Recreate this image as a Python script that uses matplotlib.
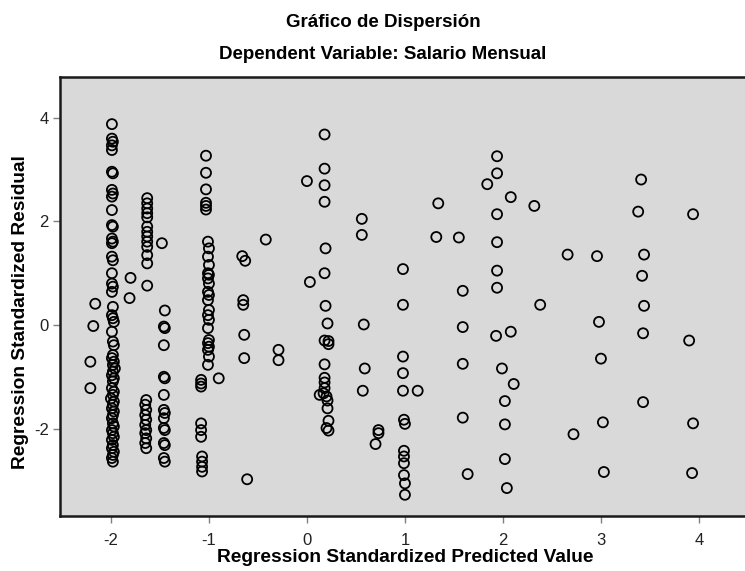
import numpy as np
import matplotlib
matplotlib.use('Agg')
import matplotlib.pyplot as plt

plt.rcParams['font.family'] = ['Liberation Sans', 'DejaVu Sans']
plt.rcParams['axes.unicode_minus'] = False

# standardized predicted value (x) and standardized residual (y)
col_m2_y = [3.88, 3.60, 3.54, 3.47, 3.38, 2.96, 2.93, 2.61, 2.54, 2.48, 2.22, 1.93, 1.90,
            1.67, 1.61, 1.58, 1.32, 1.25, 1.00, 0.80, 0.74, 0.64, 0.35, 0.19, 0.13, 0.06,
            -0.13, -0.32, -0.39, -0.58, -0.64, -0.71, -0.77, -0.84, -0.90, -0.97, -1.03,
            -1.09, -1.22, -1.29, -1.35, -1.42, -1.48, -1.54, -1.61, -1.67, -1.74, -1.80,
            -1.90, -1.96, -2.03, -2.09, -2.16, -2.22, -2.32, -2.38, -2.45, -2.51, -2.57, -2.64]
col_m2_x = [-1.99, -1.99, -1.98, -1.99, -1.99, -1.99, -1.98, -1.99, -1.98, -1.99, -1.99, -1.99, -1.98,
            -1.99, -1.98, -1.99, -1.99, -1.98, -1.99, -1.99, -1.98, -1.99, -1.98, -1.99, -1.98, -1.97,
            -1.99, -1.98, -1.97, -1.98, -1.99, -1.97, -1.98, -1.96, -1.98, -1.99, -1.97,
            -1.98, -1.99, -1.97, -1.98, -2.00, -1.97, -1.98, -1.99, -1.97, -1.98, -1.99,
            -1.98, -1.97, -1.99, -1.98, -1.97, -1.99, -1.98, -1.99, -1.97, -1.98, -1.99, -1.98]

col_m16_y = [2.45, 2.35, 2.25, 2.16, 2.08, 1.90, 1.80, 1.71, 1.61, 1.51, 1.35, 1.19, 0.76,
             -1.45, -1.54, -1.64, -1.74, -1.83, -1.93, -2.03, -2.09, -2.19, -2.28, -2.38]
col_m16_x = [-1.63] * 13 + [-1.64, -1.65, -1.64, -1.65, -1.64, -1.65, -1.64, -1.65, -1.64, -1.65, -1.64]

col_m14_y = [0.28, -0.03, -0.06, -0.39, -1.00, -1.03, -1.35, -1.64, -1.70, -1.80,
             -1.99, -2.03, -2.28, -2.32, -2.57, -2.64]
col_m14_x = [-1.45, -1.46, -1.45, -1.46, -1.46, -1.45, -1.46, -1.46, -1.45, -1.46,
             -1.46, -1.45, -1.46, -1.45, -1.46, -1.45]

col_m1_y = [3.27, 2.94, 2.62, 2.36, 2.30, 2.23,
            1.61, 1.48, 1.32, 1.16, 1.00, 0.97, 0.90, 0.80, 0.64, 0.58, 0.48, 0.29, 0.19,
            0.10, -0.06, -0.29, -0.35, -0.42, -0.48, -0.61, -0.77,
            -1.06, -1.13, -1.19, -1.90, -2.03, -2.16, -2.54, -2.64, -2.74, -2.83]
col_m1_x = [-1.03] * 6 + [-1.01, -1.00, -1.01, -1.00, -1.01, -1.00, -1.01, -1.00, -1.01, -1.00,
                          -1.01, -1.00, -1.01, -1.00, -1.01, -1.00, -1.01, -1.00, -1.01, -1.00, -1.01] \
           + [-1.08, -1.08, -1.08, -1.08, -1.08, -1.08, -1.07, -1.07, -1.07, -1.07]

col_02_y = [3.68, 3.02, 2.70, 2.38, 1.48, 1.00, 0.37, 0.03, -0.30, -0.37, -0.31, -0.76,
            -1.02, -1.11, -1.22, -1.35, -1.32, -1.38, -1.46, -1.61, -1.85, -1.99, -2.04]
col_02_x = [0.18, 0.18, 0.18, 0.18, 0.19, 0.18, 0.19, 0.21, 0.18, 0.22, 0.22, 0.18,
            0.18, 0.18, 0.18, 0.13, 0.17, 0.20, 0.21, 0.21, 0.22, 0.20, 0.22]

col_1_y = [1.08, 0.39, -0.61, -0.93, -1.27, -1.83, -1.91, -2.43, -2.54, -2.67, -2.90, -3.06, -3.28]
col_1_x = [0.98, 0.98, 0.98, 0.98, 0.98, 0.99, 1.00, 0.99, 0.99, 0.99, 0.99, 1.00, 1.00]

other_x = [-2.16, -2.18, -2.21, -2.21, -1.80, -1.81, -1.48, -0.90,
           -0.66, -0.63, -0.65, -0.65, -0.64, -0.64, -0.61, -0.42, -0.29, -0.29,
           0.00, 0.03, 0.56, 0.56, 0.58, 0.59, 0.57, 0.73, 0.73, 0.70, 1.13,
           1.34, 1.32, 1.55, 1.59, 1.59, 1.59, 1.59, 1.64,
           1.94, 1.94, 1.84, 2.08, 2.32, 1.94, 1.94, 1.94, 1.94, 1.93, 2.08, 1.99, 2.11,
           2.02, 2.02, 2.02, 2.04, 2.38, 2.66, 2.72,
           2.96, 2.98, 3.00, 3.02, 3.03,
           3.41, 3.38, 3.44, 3.42, 3.44, 3.43, 3.43,
           3.94, 3.90, 3.94, 3.93]
other_y = [0.41, -0.02, -0.71, -1.22, 0.91, 0.52, 1.58, -1.03,
           1.33, 1.24, 0.48, 0.39, -0.19, -0.64, -2.98, 1.65, -0.48, -0.68,
           2.78, 0.83, 2.05, 1.74, 0.01, -0.84, -1.27, -2.03, -2.09, -2.30, -1.27,
           2.35, 1.70, 1.69, 0.66, -0.04, -0.75, -1.79, -2.88,
           3.26, 2.93, 2.72, 2.47, 2.30, 2.14, 1.60, 1.05, 0.72, -0.21, -0.13, -0.84, -1.14,
           -1.47, -1.92, -2.59, -3.15, 0.39, 1.36, -2.11,
           1.33, 0.06, -0.65, -1.88, -2.84,
           2.81, 2.19, 1.36, 0.95, 0.37, -0.16, -1.49,
           2.14, -0.30, -1.90, -2.86]

pred = np.concatenate([col_m2_x, col_m16_x, col_m14_x, col_m1_x, col_02_x, col_1_x, other_x])
resid = np.concatenate([col_m2_y, col_m16_y, col_m14_y, col_m1_y, col_02_y, col_1_y, other_y])

x_ticks = [-2, -1, 0, 1, 2, 3, 4]
y_ticks = [-2, 0, 2, 4]

fig = plt.figure(figsize=(7.45, 5.71), dpi=100)
ax = fig.add_axes([0.0805, 0.0963, 0.9195, 0.7688])
ax.set_facecolor('#d9d9d9')

ax.scatter(pred, resid, s=52, facecolors='none', edgecolors='black', linewidths=1.3, zorder=3)

ax.set_xlim(-2.52, 4.47)
ax.set_ylim(-3.69, 4.79)
ax.set_xticks(x_ticks)
ax.set_yticks(y_ticks)
ax.tick_params(axis='both', direction='out', length=5, width=1, color='#808080',
               labelsize=12, labelcolor='#222222')
ax.tick_params(axis='x', pad=7)
ax.tick_params(axis='y', pad=3)

for side in ['left', 'bottom', 'top']:
    ax.spines[side].set_linewidth(1.8)
    ax.spines[side].set_color('#1a1a1a')
ax.spines['right'].set_visible(False)

fig.text(0.514, 0.961, 'Gráfico de Dispersión', ha='center', va='center',
         fontsize=13.5, fontweight='bold')
fig.text(0.514, 0.905, 'Dependent Variable: Salario Mensual', ha='center', va='center',
         fontsize=13.5, fontweight='bold')
fig.text(0.544, 0.023, 'Regression Standardized Predicted Value', ha='center', va='center',
         fontsize=13.8, fontweight='bold')
fig.text(0.027, 0.454, 'Regression Standardized Residual', ha='center', va='center',
         rotation=90, fontsize=13.8, fontweight='bold')

plt.savefig('out.png', dpi=100)
